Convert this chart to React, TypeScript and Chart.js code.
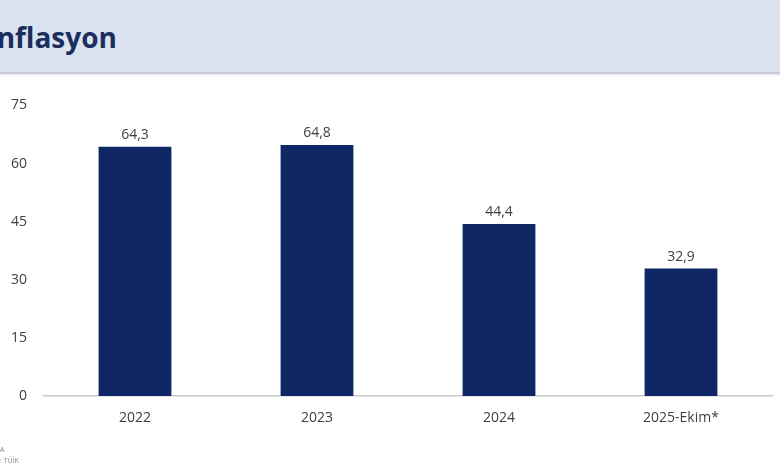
import React, { useEffect, useRef } from "react";
import { Chart, registerables } from "chart.js";

Chart.register(...registerables);

const categories = ["2022", "2023", "2024", "2025-Ekim*"];
const values = [64.3, 64.8, 44.4, 32.9];
const valueLabels = ["64,3", "64,8", "44,4", "32,9"];
const yTicks = [0, 15, 30, 45, 60, 75];

const FONT = "'Open Sans', 'Liberation Sans', sans-serif";
const TEXT = "#404040";

const dataLabelPlugin = {
  id: "dataLabels",
  afterDatasetsDraw(chart: any) {
    const ctx = chart.ctx;
    const meta = chart.getDatasetMeta(0);
    ctx.save();
    ctx.font = `14px ${FONT}`;
    ctx.fillStyle = TEXT;
    ctx.textAlign = "center";
    ctx.textBaseline = "bottom";
    meta.data.forEach((bar: any, i: number) => {
      ctx.fillText(valueLabels[i], bar.x, bar.y - 5);
    });
    ctx.restore();
  },
};

export default function App() {
  const ref = useRef<HTMLCanvasElement | null>(null);

  useEffect(() => {
    if (!ref.current) return;
    const chart = new Chart(ref.current, {
      type: "bar",
      data: {
        labels: categories,
        datasets: [
          {
            data: values,
            backgroundColor: "#0F2765",
            categoryPercentage: 1,
            barPercentage: 0.4,
          },
        ],
      },
      options: {
        animation: false,
        responsive: false,
        maintainAspectRatio: false,
        layout: { padding: { top: 25, right: 8, left: 0, bottom: 0 } },
        plugins: { legend: { display: false }, tooltip: { enabled: false } },
        scales: {
          x: {
            grid: { display: false, drawTicks: false },
            border: { display: true, color: "#C9C9C9", width: 1.5 },
            ticks: { color: TEXT, font: { family: FONT, size: 14 }, padding: 14 },
            afterFit(scale: any) {
              scale.height = 74;
            },
          },
          y: {
            min: 0,
            max: 75,
            grid: { display: false, drawTicks: false },
            border: { display: false },
            afterBuildTicks(scale: any) {
              scale.ticks = yTicks.map((v) => ({ value: v }));
            },
            ticks: { color: TEXT, font: { family: FONT, size: 14 }, padding: 17 },
            afterFit(scale: any) {
              scale.width = 44;
            },
          },
        },
      },
      plugins: [dataLabelPlugin],
    });
    return () => chart.destroy();
  }, []);

  return (
    <div
      style={{
        position: "fixed",
        left: 0,
        top: 0,
        width: 780,
        height: 470,
        background: "#FFFFFF",
        overflow: "hidden",
        fontFamily: FONT,
      }}
    >
      <div
        style={{
          position: "absolute",
          left: 0,
          top: 0,
          width: 780,
          height: 72,
          background: "#DCE3F0",
          borderBottom: "2px solid #C5CBD6",
          boxShadow: "0 1px 2px rgba(0,0,0,0.12)",
        }}
      >
        <div
          style={{
            position: "absolute",
            left: -19,
            top: 17,
            fontSize: 28,
            fontWeight: 700,
            color: "#1B2F5E",
            lineHeight: "40px",
            whiteSpace: "nowrap",
          }}
        >
          Enflasyon
        </div>
      </div>
      <canvas
        ref={ref}
        width={780}
        height={390}
        style={{ position: "absolute", left: 0, top: 80, width: 780, height: 390 }}
      />
      <div
        style={{
          position: "absolute",
          left: 0,
          top: 444,
          fontSize: 7,
          color: "#8A8A8A",
          lineHeight: "11px",
          whiteSpace: "nowrap",
        }}
      >
        <div>A</div>
        <div>: TÜİK</div>
      </div>
    </div>
  );
}
